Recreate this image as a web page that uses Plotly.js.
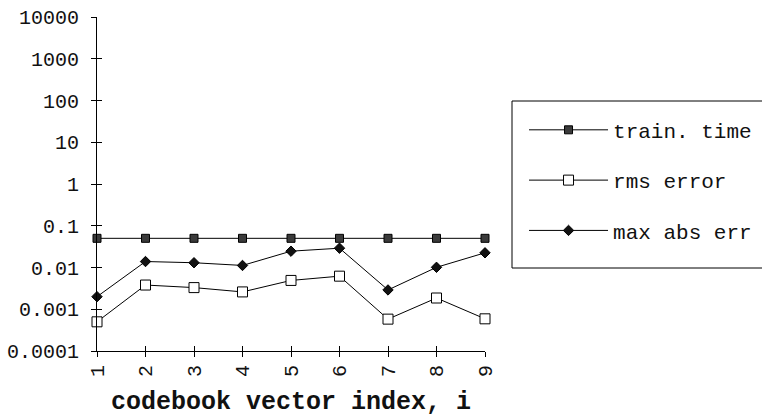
<!DOCTYPE html>
<html>
<head>
<meta charset="utf-8">
<script src="https://cdn.plot.ly/plotly-3.0.1.min.js"></script>
<style>html,body{margin:0;padding:0;background:#fff;}#chart{width:762px;height:417px;}</style>
</head>
<body>
<div id="chart"></div>
<script>
// ---- data ----
const vectorIndex = [1, 2, 3, 4, 5, 6, 7, 8, 9];
const trainTime = [0.05, 0.05, 0.05, 0.05, 0.05, 0.05, 0.05, 0.05, 0.05];
const rmsError = [0.0005, 0.0038, 0.0033, 0.0026, 0.0049, 0.0062, 0.00058, 0.00186, 0.00059];
const maxAbsErr = [0.002, 0.0139, 0.013, 0.0112, 0.0246, 0.029, 0.0029, 0.0101, 0.0225];
const yTickVals = [0.0001, 0.001, 0.01, 0.1, 1, 10, 100, 1000, 10000];
const yTickText = ["0.0001", "0.001", "0.01", "0.1", "1", "10", "100", "1000", "10000"];
const xTickText = ["1", "2", "3", "4", "5", "6", "7", "8", "9"];
const seriesNames = ["train. time", "rms error", "max abs err"];

const mono = "Liberation Mono, Courier New, monospace";

const traces = [
  {
    x: vectorIndex, y: trainTime, name: seriesNames[0], type: "scatter", mode: "lines+markers",
    legendgroup: "a", cliponaxis: false,
    line: {color: "#000", width: 1},
    marker: {symbol: "square", size: 8, color: "#3a3a3a", line: {color: "#000", width: 1}}
  },
  {
    x: vectorIndex, y: rmsError, name: seriesNames[1], type: "scatter", mode: "lines+markers",
    legendgroup: "b", cliponaxis: false,
    line: {color: "#000", width: 1},
    marker: {symbol: "square", size: 10, color: "#fff", line: {color: "#000", width: 1}}
  },
  {
    x: vectorIndex, y: maxAbsErr, name: seriesNames[2], type: "scatter", mode: "lines+markers",
    legendgroup: "c", cliponaxis: false,
    line: {color: "#000", width: 1},
    marker: {symbol: "diamond", size: 8, color: "#111", line: {color: "#000", width: 1}}
  },
  // invisible trace so the overlay axes (inner half of the crossing ticks) are drawn
  {
    x: vectorIndex, y: trainTime, xaxis: "x2", yaxis: "y2", type: "scatter", mode: "markers",
    showlegend: false, hoverinfo: "skip", opacity: 0, marker: {size: 1}
  }
];

const layout = {
  width: 762, height: 417,
  margin: {l: 97, r: 277, t: 17, b: 66},
  paper_bgcolor: "#fff", plot_bgcolor: "#fff",
  font: {family: mono, color: "#111", size: 20},
  showlegend: true,
  legend: {
    xref: "container", yref: "container",
    x: 0.6877, xanchor: "left", y: 0.737, yanchor: "top",
    borderwidth: 0, bgcolor: "rgba(0,0,0,0)",
    font: {family: mono, size: 21, color: "#111"},
    tracegroupgap: 20, itemwidth: 79, traceorder: "grouped"
  },
  shapes: [
    {type: "rect", xref: "paper", yref: "paper", x0: 1.0696, x1: 1.76, y0: 0.2485, y1: 0.7485,
     line: {color: "#000", width: 1}, fillcolor: "rgba(0,0,0,0)", layer: "below"}
  ],
  xaxis: {
    type: "linear", range: [1, 9], showgrid: false, zeroline: false,
    showline: true, linecolor: "#000", linewidth: 1,
    ticks: "outside", ticklen: 5, tickcolor: "#000",
    tickmode: "array", tickvals: vectorIndex, ticktext: xTickText,
    tickangle: -90, tickfont: {family: mono, size: 20},
    title: {text: "<b>codebook vector index, i</b>", font: {family: mono, size: 25, color: "#111"}, standoff: 32}
  },
  yaxis: {
    type: "log", range: [-4, 4], showgrid: false, zeroline: false,
    showline: true, linecolor: "#000", linewidth: 1,
    ticks: "outside", ticklen: 5, tickcolor: "#000",
    tickmode: "array", tickvals: yTickVals, ticktext: yTickText,
    tickfont: {family: mono, size: 20}, ticklabelstandoff: 8
  },
  xaxis2: {
    overlaying: "x", anchor: "y2", side: "bottom", range: [1, 9],
    showgrid: false, zeroline: false, showline: false, showticklabels: false,
    ticks: "inside", ticklen: 5, tickcolor: "#000", tickmode: "array", tickvals: vectorIndex
  },
  yaxis2: {
    overlaying: "y", anchor: "x2", side: "left", type: "log", range: [-4, 4],
    showgrid: false, zeroline: false, showline: false, showticklabels: false,
    ticks: "inside", ticklen: 5, tickcolor: "#000", tickmode: "array", tickvals: yTickVals
  }
};

Plotly.newPlot("chart", traces, layout, {staticPlot: true, displayModeBar: false});
</script>
</body>
</html>
